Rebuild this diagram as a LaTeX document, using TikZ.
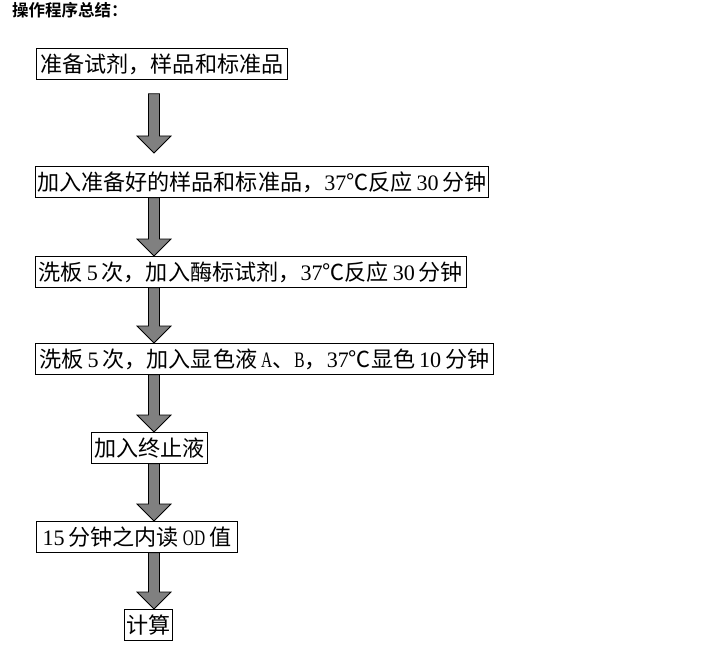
\documentclass[tikz,border=0pt]{standalone}
\usepackage{fontspec}
\setmainfont{Liberation Serif}[WordSpace=0.7]
\newfontfamily\cjk{Noto Sans CJK SC}[BoldFont={Noto Sans CJK SC Bold}]
\newfontfamily\ltr{Liberation Serif}[FakeStretch=0.7]
\usetikzlibrary{calc}

\definecolor{arrowgray}{RGB}{128,128,128}

\newcommand{\flowarrow}[2]{%
  \draw[blockarrow] let \p1 = (#1), \p2 = (#2) in
    (\x1-5.5pt,\y1) -- (\x1+5.5pt,\y1) -- (\x1+5.5pt,\y2+17pt)
    -- (\x1+17pt,\y2+17pt) -- (\x1,\y2) -- (\x1-17pt,\y2+17pt)
    -- (\x1-5.5pt,\y2+17pt) -- cycle;}

\begin{document}
\begin{tikzpicture}[x=1pt,y=-1pt]

\tikzset{stepbox/.style = {draw, line width=0.8pt, anchor=north west, inner xsep=1pt, inner ysep=0pt,
  minimum height=31pt, text height=19.4pt, text depth=2.65pt, font=\fontsize{22.1}{22.1}\selectfont}}
\tikzset{blockarrow/.style = {draw=black, fill=arrowgray, line width=0.8pt, line join=miter}}
\useasboundingbox (0,0) rectangle (720,647);

%title
\node[anchor=west, inner sep=0pt, text height=14.5pt, text depth=2pt,
  font=\cjk\bfseries\fontsize{16.5}{16.5}\selectfont] (title) at (12,10.5) {操作程序总结：};
%boxes
\node[stepbox, minimum width=251pt] (b1) at (36,48) {{\cjk 准备试剂，样品和标准品}};
\node[stepbox, minimum width=453pt] (b2) at (35,166) {{\cjk 加入准备好的样品和标准品，}37{\cjk ℃反应} 30 {\cjk 分钟}};
\node[stepbox, minimum width=431pt] (b3) at (35,256) {{\cjk 洗板} 5 {\cjk 次，加入酶标试剂，}37{\cjk ℃反应} 30 {\cjk 分钟}};
\node[stepbox, minimum width=458pt] (b4) at (35,343) {{\cjk 洗板} 5 {\cjk 次，加入显色液} {\ltr A}{\cjk 、}{\ltr B}{\cjk ，}37{\cjk ℃显色} 10 {\cjk 分钟}};
\node[stepbox, minimum width=116pt] (b5) at (91,432) {{\cjk 加入终止液}};
\node[stepbox, minimum width=201pt] (b6) at (36,521) {15 {\cjk 分钟之内读} {\ltr OD} {\cjk 值}};
\node[stepbox, minimum width=48pt] (b7) at (124,609) {{\cjk 计算}};
%arrows
\coordinate (axis) at (154,0);
\flowarrow{$(b1.south -| axis)+(0,14)$}{$(b2.north -| axis)+(0,-13)$}
\flowarrow{b2.south -| axis}{b3.north -| axis}
\flowarrow{b3.south -| axis}{b4.north -| axis}
\flowarrow{b4.south -| axis}{b5.north -| axis}
\flowarrow{b5.south -| axis}{b6.north -| axis}
\flowarrow{b6.south -| axis}{b7.north -| axis}

\end{tikzpicture}
\end{document}
